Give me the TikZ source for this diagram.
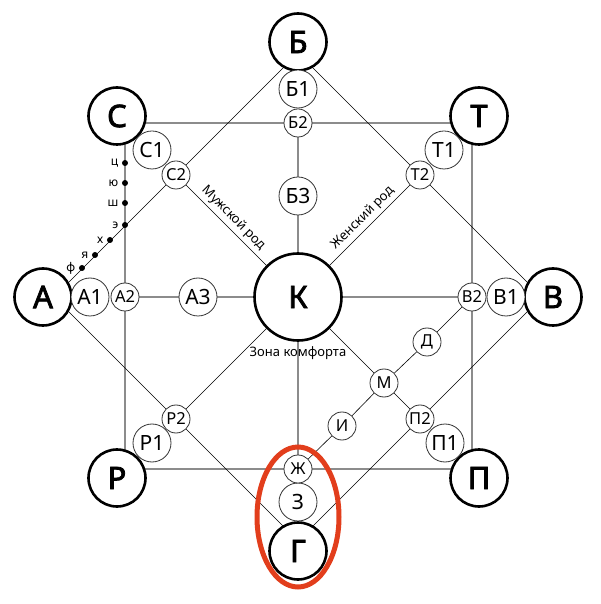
\documentclass[tikz,border=0pt]{standalone}
\usepackage{fontspec}
\setmainfont{Noto Sans}[AutoFakeBold=2.5]
\usetikzlibrary{backgrounds}

\definecolor{ringred}{RGB}{226,62,28}

\begin{document}
\begin{tikzpicture}
 [x=1pt, y=1pt,
  main node/.style={circle, draw, fill=white, line width=2.6pt, minimum size=57pt, inner sep=0pt, font=\fontsize{31}{31}\selectfont\bfseries},
  hub node/.style={main node, minimum size=87pt},
  mid node/.style={circle, draw=black!80, fill=white, line width=0.8pt, minimum size=38pt, inner sep=0pt, font=\fontsize{21}{21}\selectfont},
  small node/.style={mid node, minimum size=28pt, font=\fontsize{16.5}{16.5}\selectfont},
  dot node/.style={circle, fill=black, inner sep=0pt, minimum size=6pt, label distance=2pt},
  letter/.style={font=\fontsize{12}{12}\selectfont},
  frame line/.style={draw=black!45, line width=1.3pt},
  link line/.style={draw=black, line width=0.6pt}]

\useasboundingbox (-298,-307) rectangle (303,297);

% hub
\node[hub node] (k) at (0,0) {К};

% outer ring
\node[main node] (b) at (0,255) {Б};
\node[main node] (t) at (181,181) {Т};
\node[main node] (v) at (255,0) {В};
\node[main node] (p) at (181,-181) {П};
\node[main node] (g) at (0,-254) {Г};
\node[main node] (r) at (-181,-181) {Р};
\node[main node] (a) at (-255,0) {А};
\node[main node] (s) at (-181,181) {С};

% second ring
\node[mid node] (b1) at (0,208) {Б1};
\node[mid node] (t1) at (146,147) {Т1};
\node[mid node] (v1) at (208,0) {В1};
\node[mid node] (p1) at (147,-146) {П1};
\node[mid node] (z) at (0,-205) {З};
\node[mid node] (r1) at (-146,-146) {Р1};
\node[mid node] (a1) at (-208,0) {А1};
\node[mid node] (s1) at (-146,147) {С1};

% crossings
\node[small node] (b2) at (0,174) {Б2};
\node[small node] (t2) at (122,122) {Т2};
\node[small node] (v2) at (174,0) {В2};
\node[small node] (p2) at (122,-122) {П2};
\node[small node] (zh) at (0,-172) {Ж};
\node[small node] (r2) at (-122,-122) {Р2};
\node[small node] (a2) at (-173,0) {А2};
\node[small node] (s2) at (-122,122) {С2};

\node[mid node] (b3) at (0,101) {Б3};
\node[mid node] (a3) at (-100,0) {А3};

\node[small node] (d) at (129,-45) {Д};
\node[small node] (m) at (86,-86) {М};
\node[small node] (i) at (44,-129) {И};

% letters on the left
\node[dot node, label={[letter]left:ц}] (lc) at (-173,134) {};
\node[dot node, label={[letter]left:ю}] (lyu) at (-173,114) {};
\node[dot node, label={[letter]left:ш}] (lsh) at (-173,94) {};
\node[dot node, label={[letter]left:э}] (le) at (-173,72) {};
\node[dot node, label={[letter]left:х}] (lh) at (-188,57) {};
\node[dot node, label={[letter]left:я}] (lya) at (-203,42) {};
\node[dot node, label={[letter]left:ф}] (lf) at (-216,29) {};

\node[font=\fontsize{13}{13}\selectfont] (zona) at (0,-56) {Зона комфорта};

\coordinate (sqa) at (-173,174);
\coordinate (sqc) at (174,-172);
\coordinate (dn) at (0,244);
\coordinate (de) at (244,0);
\coordinate (ds) at (0,-244);
\coordinate (dw) at (-244,0);

\begin{scope}[on background layer]
\draw[frame line] (sqa) rectangle (sqc);
\draw[frame line] (b2) -- (b3) -- (k) -- (zh);
\draw[frame line] (a2) -- (a3) -- (k) -- (v2);

\draw[link line] (dn) -- (t2) -- (de) -- (p2) -- (ds) -- (r2) -- (dw) -- (s2) -- (dn);
\draw[link line] (s2) -- node[sloped, above, font=\fontsize{13}{13}\selectfont] {Мужской род} (k);
\draw[link line] (k) -- node[sloped, above, font=\fontsize{13}{13}\selectfont] {Женский род} (t2);
\draw[link line] (k) -- (r2);
\draw[link line] (k) -- (m) -- (p2);
\draw[link line] (v2) -- (d) -- (m) -- (i) -- (zh);
\end{scope}

\draw[ringred, line width=5pt] (0,-220) ellipse [x radius=41, y radius=70];

\end{tikzpicture}
\end{document}
